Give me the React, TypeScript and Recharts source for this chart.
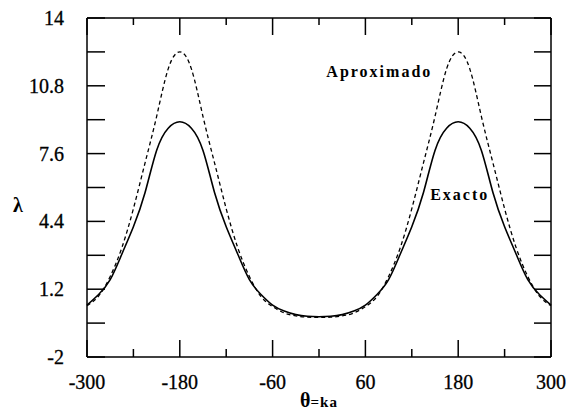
import React from 'react';
import { LineChart, Line, XAxis, YAxis, ReferenceDot } from 'recharts';

const THETA = [-300, -285, -270, -255, -240, -225, -210, -195, -180, -165, -150, -135, -120, -105, -90, -75, -60, -45, -30, -15, 0, 15, 30, 45, 60, 75, 90, 105, 120, 135, 150, 165, 180, 195, 210, 225, 240, 255, 270, 285, 300];
const EXACTO = [0.45, 0.95, 1.65, 2.85, 4.15, 5.75, 7.75, 8.8, 9.1, 8.8, 7.75, 5.75, 4.15, 2.85, 1.65, 0.95, 0.45, 0.17, 0.0, -0.08, -0.1, -0.08, 0.0, 0.17, 0.45, 0.95, 1.65, 2.85, 4.15, 5.75, 7.75, 8.8, 9.1, 8.8, 7.75, 5.75, 4.15, 2.85, 1.65, 0.95, 0.45];
const APROXIMADO = [0.42, 0.88, 1.8, 3.15, 5.0, 7.15, 9.35, 11.6, 12.4, 11.6, 9.35, 7.15, 5.0, 3.15, 1.8, 0.85, 0.38, 0.08, -0.06, -0.12, -0.13, -0.12, -0.06, 0.08, 0.38, 0.85, 1.8, 3.15, 5.0, 7.15, 9.35, 11.6, 12.4, 11.6, 9.35, 7.15, 5.0, 3.15, 1.8, 0.88, 0.42];

const X_TICKS = [-300, -240, -180, -120, -60, 0, 60, 120, 180, 240, 300];
const X_LABELS = [-300, -180, -60, 60, 180, 300];
const Y_TICKS = [-2, -0.4, 1.2, 2.8, 4.4, 6, 7.6, 9.2, 10.8, 12.4, 14];
const Y_LABELS = ['-2', '1.2', '4.4', '7.6', '10.8', '14'];

const data = THETA.map((t, i) => ({ theta: t, exacto: EXACTO[i], aprox: APROXIMADO[i] }));

const FONT = '"Liberation Serif", "Times New Roman", serif';

const BottomTick = (props: any) => {
  const { x, y, payload } = props;
  const major = X_LABELS.includes(payload.value);
  return (
    <g>
      <line x1={x} y1={y} x2={x} y2={y - (major ? 17 : 8)} stroke="#000" strokeWidth={1.5} />
      {major && (
        <text x={x} y={y + 32} textAnchor="middle" fontFamily={FONT} fontSize={20} fill="#000" stroke="#000" strokeWidth={0.3}>
          {payload.value}
        </text>
      )}
    </g>
  );
};

const TopTick = (props: any) => {
  const { x, y, payload } = props;
  const major = X_LABELS.includes(payload.value);
  return <line x1={x} y1={y} x2={x} y2={y + (major ? 17 : 7)} stroke="#000" strokeWidth={1.5} />;
};

const fmtY = (v: number) => String(Math.round(v * 10) / 10);

const LeftTick = (props: any) => {
  const { x, y, payload } = props;
  const s = fmtY(payload.value);
  const lab = Y_LABELS.includes(s);
  return (
    <g>
      <line x1={x} y1={y} x2={x + 18} y2={y} stroke="#000" strokeWidth={1.5} />
      {lab && (
        <text x={x - 23} y={y + 7} textAnchor="end" fontFamily={FONT} fontSize={20} fill="#000" stroke="#000" strokeWidth={0.3}>
          {s}
        </text>
      )}
    </g>
  );
};

const RightTick = (props: any) => {
  const { x, y } = props;
  return <line x1={x} y1={y} x2={x - 17} y2={y} stroke="#000" strokeWidth={1.5} />;
};

const XTitle = (props: any) => {
  const { viewBox } = props;
  const cx = viewBox.x + viewBox.width / 2;
  const by = viewBox.y + 50;
  return (
    <text x={cx} y={by} textAnchor="middle" fontFamily={FONT} fontWeight="bold" fill="#000">
      <tspan fontSize={20}>θ</tspan>
      <tspan fontSize={15} letterSpacing={1}>=ka</tspan>
    </text>
  );
};

const YTitle = (props: any) => {
  const { viewBox } = props;
  const x = viewBox.x - 68;
  const y = viewBox.y + viewBox.height / 2 + 24;
  return (
    <text x={x} y={y} textAnchor="middle" fontFamily={FONT} fontWeight="bold" fontSize={20} fill="#000">
      λ
    </text>
  );
};

export default function App() {
  return (
    <div style={{ position: 'absolute', left: 0, top: 0, background: '#fff' }}>
      <LineChart width={579} height={410} data={data} margin={{ top: 17, right: 27, bottom: 52, left: 86 }}>
        <XAxis
          dataKey="theta"
          type="number"
          domain={[-300, 300]}
          ticks={X_TICKS}
          interval={0}
          height={1}
          tickSize={0}
          tickMargin={0}
          axisLine={{ stroke: '#000', strokeWidth: 1.5 }}
          tick={<BottomTick />}
          label={{ content: <XTitle /> }}
        />
        <XAxis
          xAxisId="top"
          dataKey="theta"
          orientation="top"
          type="number"
          domain={[-300, 300]}
          ticks={X_TICKS}
          interval={0}
          height={1}
          tickSize={0}
          tickMargin={0}
          axisLine={{ stroke: '#000', strokeWidth: 1.5 }}
          tick={<TopTick />}
        />
        <YAxis
          type="number"
          domain={[-2, 14]}
          ticks={Y_TICKS}
          interval={0}
          width={1}
          tickSize={0}
          tickMargin={0}
          allowDataOverflow
          axisLine={{ stroke: '#000', strokeWidth: 1.5 }}
          tick={<LeftTick />}
          label={{ content: <YTitle /> }}
        />
        <YAxis
          yAxisId="right"
          orientation="right"
          type="number"
          domain={[-2, 14]}
          ticks={Y_TICKS}
          interval={0}
          width={1}
          tickSize={0}
          tickMargin={0}
          allowDataOverflow
          axisLine={{ stroke: '#000', strokeWidth: 1.5 }}
          tick={<RightTick />}
        />
        <Line
          xAxisId="top"
          yAxisId="right"
          type="natural"
          dataKey="exacto"
          stroke="none"
          strokeOpacity={0}
          dot={false}
          activeDot={false}
          legendType="none"
          isAnimationActive={false}
        />
        <Line
          type="natural"
          dataKey="aprox"
          stroke="#000"
          strokeWidth={1.3}
          strokeDasharray="4 3"
          dot={false}
          isAnimationActive={false}
        />
        <Line
          type="natural"
          dataKey="exacto"
          stroke="#000"
          strokeWidth={1.6}
          dot={false}
          isAnimationActive={false}
        />
        <ReferenceDot
          x={78}
          y={11.5}
          r={0}
          fill="none"
          stroke="none"
          label={{ value: 'Aproximado', position: 'center', fontFamily: FONT, fontWeight: 'bold', fontSize: 16, letterSpacing: 2, fill: '#000' }}
        />
        <ReferenceDot
          x={182}
          y={5.67}
          r={0}
          fill="none"
          stroke="none"
          label={{ value: 'Exacto', position: 'center', fontFamily: FONT, fontWeight: 'bold', fontSize: 16, letterSpacing: 2, fill: '#000' }}
        />
      </LineChart>
    </div>
  );
}
